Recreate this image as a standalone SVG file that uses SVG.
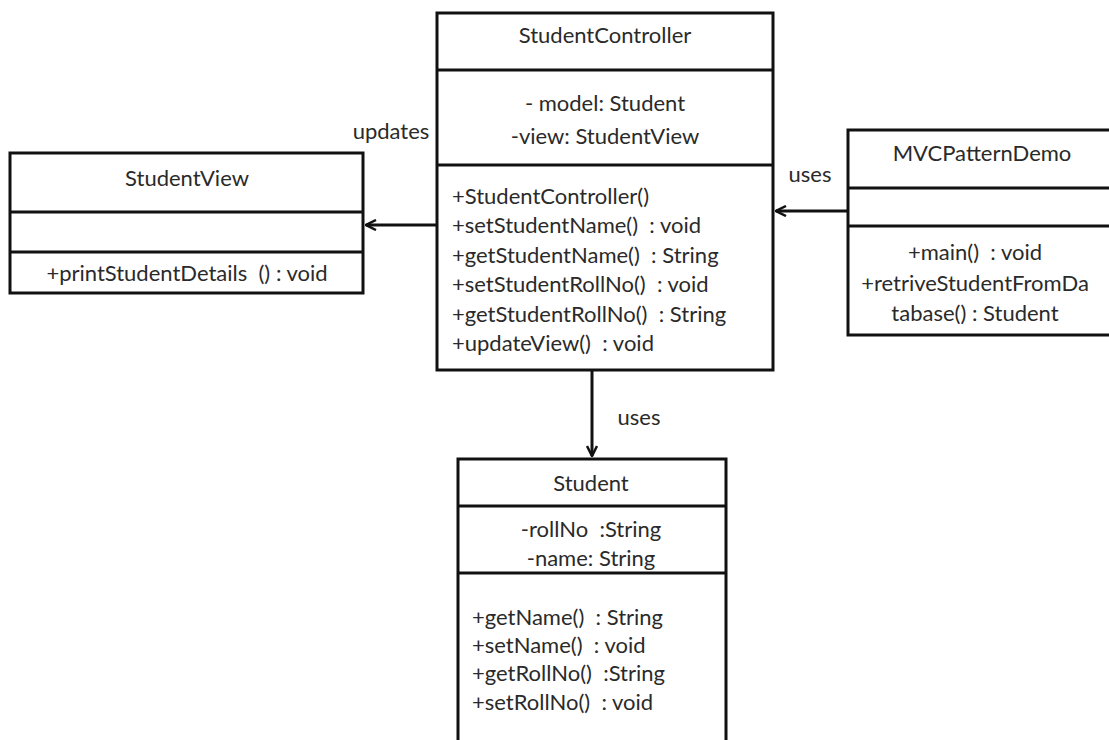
<svg xmlns="http://www.w3.org/2000/svg" width="1109" height="740" viewBox="0 0 1109 740">
<style>
text{font-family:Lato,"Open Sans","Liberation Sans",sans-serif;font-size:22px;fill:#2a2a2a;white-space:pre}
.c{text-anchor:middle}
.box{fill:#fff;stroke:#111;stroke-width:3}
.ln{stroke:#111;stroke-width:3;fill:none}
</style>
<defs>
<marker id="arr" viewBox="0 0 12 12" refX="11" refY="6" markerWidth="12" markerHeight="12" markerUnits="userSpaceOnUse" orient="auto">
<path d="M1,1 L11,6 L1,11" fill="none" stroke="#111" stroke-width="2.5"/>
</marker>
</defs>
<rect width="1109" height="740" fill="#fff"/>
<g id="connectors">
<line class="ln" x1="437" y1="225" x2="366" y2="225" marker-end="url(#arr)"/>
<line class="ln" x1="848" y1="211" x2="776" y2="211" marker-end="url(#arr)"/>
<line class="ln" x1="592" y1="371" x2="592" y2="456" marker-end="url(#arr)"/>
<text x="391" y="139" class="c">updates</text>
<text x="810" y="182" class="c">uses</text>
<text x="639" y="425" class="c">uses</text>
</g>
<g id="StudentController">
<rect class="box" x="437" y="13" width="336" height="357"/>
<line class="ln" x1="437" y1="70" x2="773" y2="70"/>
<line class="ln" x1="437" y1="165" x2="773" y2="165"/>
<text x="605" y="43" class="c">StudentController</text>
<text x="605" y="111" class="c">- model: Student</text>
<text x="605" y="144" class="c">-view: StudentView</text>
<text x="452" y="204">+StudentController()</text>
<text x="452" y="233">+setStudentName()  : void</text>
<text x="452" y="263">+getStudentName()  : String</text>
<text x="452" y="292">+setStudentRollNo()  : void</text>
<text x="452" y="322">+getStudentRollNo()  : String</text>
<text x="452" y="351">+updateView()  : void</text>
</g>
<g id="StudentView">
<rect class="box" x="10" y="153" width="353" height="140"/>
<line class="ln" x1="10" y1="212" x2="363" y2="212"/>
<line class="ln" x1="10" y1="252" x2="363" y2="252"/>
<text x="187" y="186" class="c">StudentView</text>
<text x="187" y="281" class="c">+printStudentDetails  () : void</text>
</g>
<g id="MVCPatternDemo">
<rect class="box" x="848" y="130" width="270" height="205"/>
<line class="ln" x1="848" y1="188" x2="1112" y2="188"/>
<line class="ln" x1="848" y1="226" x2="1112" y2="226"/>
<text x="982" y="161" class="c">MVCPatternDemo</text>
<text x="975" y="260" class="c">+main()  : void</text>
<text x="975" y="291" class="c">+retriveStudentFromDa</text>
<text x="975" y="321" class="c">tabase() : Student</text>
</g>
<g id="Student">
<rect class="box" x="458" y="459" width="268" height="300"/>
<line class="ln" x1="458" y1="506" x2="726" y2="506"/>
<line class="ln" x1="458" y1="573" x2="726" y2="573"/>
<text x="591" y="491" class="c">Student</text>
<text x="591" y="537" class="c">-rollNo  :String</text>
<text x="591" y="566" class="c">-name: String</text>
<text x="472" y="625">+getName()  : String</text>
<text x="472" y="653">+setName()  : void</text>
<text x="472" y="681">+getRollNo()  :String</text>
<text x="472" y="710">+setRollNo()  : void</text>
</g>
</svg>
